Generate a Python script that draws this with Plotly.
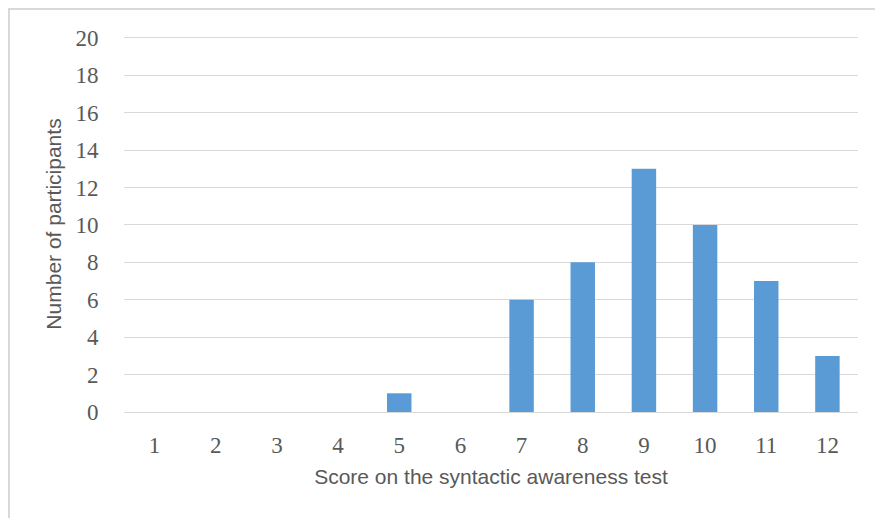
import plotly.graph_objects as go

scores = ["1", "2", "3", "4", "5", "6", "7", "8", "9", "10", "11", "12"]
participants = [0, 0, 0, 0, 1, 0, 6, 8, 13, 10, 7, 3]
y_ticks = [0, 2, 4, 6, 8, 10, 12, 14, 16, 18, 20]

W, H = 875, 518
L, R, T, B = 124, 17, 36, 106
pw, ph = W - L - R, H - T - B

def px_x(px):
    return (px - L) / pw

def px_y(py):
    return 1 - (py - T) / ph

fig = go.Figure(go.Bar(x=scores, y=participants, marker=dict(color="#5B9BD5", line=dict(width=0))))

fig.update_layout(
    width=W, height=H,
    margin=dict(l=L, r=R, t=T, b=B),
    paper_bgcolor="white", plot_bgcolor="white",
    bargap=0.6,
    showlegend=False,
    font=dict(family="Liberation Sans, Arial", color="#595959"),
    shapes=[dict(type="rect", xref="paper", yref="paper",
                 x0=px_x(9), x1=px_x(890), y0=px_y(540), y1=px_y(9),
                 line=dict(color="#d9d9d9", width=2), layer="below")],
)
fig.update_xaxes(
    type="category",
    tickfont=dict(family="Liberation Serif, Times New Roman", size=23, color="#595959"),
    ticks="outside", ticklen=12, tickcolor="rgba(0,0,0,0)",
    showgrid=False, showline=False, zeroline=False,
    title=dict(text="Score on the syntactic awareness test", font=dict(size=21, color="#595959"), standoff=12),
)
fig.update_yaxes(
    range=[0, 20.1], tickvals=y_ticks,
    tickfont=dict(family="Liberation Serif, Times New Roman", size=23, color="#595959"),
    ticks="outside", ticklen=20, tickcolor="rgba(0,0,0,0)",
    showgrid=True, gridcolor="#d9d9d9", gridwidth=1,
    zeroline=True, zerolinecolor="#d9d9d9", zerolinewidth=1,
    showline=False,
    title=dict(text="Number of participants", font=dict(size=21, color="#595959"), standoff=8),
)

fig.write_html("out.html")
